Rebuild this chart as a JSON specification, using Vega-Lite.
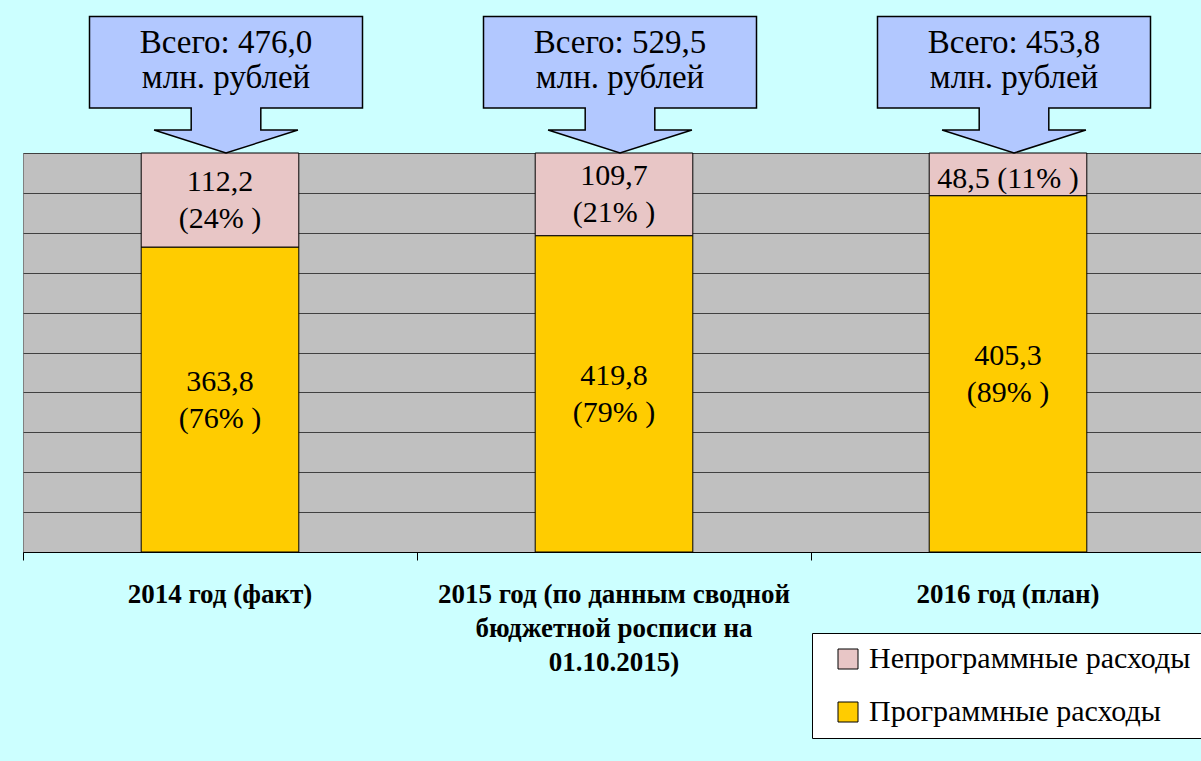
{
  "$schema": "https://vega.github.io/schema/vega-lite/v6.json",
  "width": 1182,
  "height": 399,
  "autosize": {"type": "none"},
  "padding": {"left": 23, "top": 153, "right": 0, "bottom": 209},
  "background": "#CCFFFF",
  "config": {
    "view": {"fill": "#C0C0C0", "stroke": "#808080", "strokeWidth": 1},
    "font": "Liberation Serif",
    "axisY": {"tickCount": 20}
  },
  "datasets": {
    "spend": [
      {"year": "2014 год (факт)", "type": "Программные расходы", "value": 363.8, "label2": "363,8\n(76% )", "label1": ""},
      {"year": "2014 год (факт)", "type": "Непрограммные расходы", "value": 112.2, "label2": "112,2\n(24% )", "label1": ""},
      {"year": "2015 год (по данным сводной\nбюджетной росписи на\n01.10.2015)", "type": "Программные расходы", "value": 419.8, "label2": "419,8\n(79% )", "label1": ""},
      {"year": "2015 год (по данным сводной\nбюджетной росписи на\n01.10.2015)", "type": "Непрограммные расходы", "value": 109.7, "label2": "109,7\n(21% )", "label1": ""},
      {"year": "2016 год (план)", "type": "Программные расходы", "value": 405.3, "label2": "405,3\n(89% )", "label1": ""},
      {"year": "2016 год (план)", "type": "Непрограммные расходы", "value": 48.5, "label2": "", "label1": "48,5 (11% )"}
    ],
    "totals": [
      {"year": "2014 год (факт)", "callout": "Всего: 476,0\n млн. рублей"},
      {"year": "2015 год (по данным сводной\nбюджетной росписи на\n01.10.2015)", "callout": "Всего: 529,5\n млн. рублей"},
      {"year": "2016 год (план)", "callout": "Всего: 453,8\n млн. рублей"}
    ]
  },
  "layer": [
    {
      "data": {"name": "spend"},
      "mark": {"type": "bar", "stroke": "#000000", "strokeWidth": 1},
      "encoding": {
        "x": {
          "field": "year", "type": "nominal", "sort": null,
          "scale": {"paddingInner": 0.6, "paddingOuter": 0.3},
          "axis": {
            "title": null, "labelAngle": 0, "labelFont": "Liberation Serif", "labelFontWeight": "bold",
            "labelFontSize": 27, "labelColor": "#000000", "labelLineHeight": 34,
            "labelExpr": "split(datum.label, '\\n')", "labelPadding": 21, "labelBaseline": "top",
            "labelLimit": 500, "bandPosition": -0.75, "tickColor": "#000000", "tickSize": 8,
            "domainColor": "#000000", "grid": false
          }
        },
        "y": {
          "field": "value", "type": "quantitative", "stack": "normalize",
          "scale": {"domain": [0, 1], "nice": false},
          "axis": {
            "title": null, "values": [0, 0.1, 0.2, 0.3, 0.4, 0.5, 0.6, 0.7, 0.8, 0.9, 1], "tickCount": 20,
            "grid": true, "gridColor": "#404040", "gridWidth": 1, "domain": false, "ticks": false, "labels": false
          }
        },
        "color": {
          "field": "type", "type": "nominal",
          "scale": {"domain": ["Непрограммные расходы", "Программные расходы"], "range": ["#E8C6C6", "#FFCC00"]},
          "legend": {
            "orient": "none", "legendX": 789, "legendY": 480, "title": null,
            "fillColor": "#FFFFFF", "strokeColor": "#000000", "padding": 11,
            "symbolType": "square", "symbolSize": 400, "symbolStrokeColor": "#000000", "symbolStrokeWidth": 1,
            "labelFont": "Liberation Serif", "labelFontSize": 30, "labelColor": "#000000", "labelLimit": 500,
            "rowPadding": 23, "symbolOffset": 10, "labelOffset": 6
          }
        },
        "order": {"field": "type", "sort": "descending"}
      }
    },
    {
      "data": {"name": "spend"},
      "mark": {"type": "text", "font": "Liberation Serif", "fontSize": 30, "lineBreak": "\n", "lineHeight": 37, "baseline": "middle", "dy": -18, "color": "#000000"},
      "encoding": {
        "x": {"field": "year", "type": "nominal", "sort": null},
        "y": {"field": "value", "type": "quantitative", "stack": "normalize", "bandPosition": 0.5},
        "detail": {"field": "type"},
        "order": {"field": "type", "sort": "descending"},
        "text": {"field": "label2"}
      }
    },
    {
      "data": {"name": "spend"},
      "mark": {"type": "text", "font": "Liberation Serif", "fontSize": 30, "baseline": "middle", "dy": 5, "color": "#000000"},
      "encoding": {
        "x": {"field": "year", "type": "nominal", "sort": null},
        "y": {"field": "value", "type": "quantitative", "stack": "normalize", "bandPosition": 0.5},
        "detail": {"field": "type"},
        "order": {"field": "type", "sort": "descending"},
        "text": {"field": "label1"}
      }
    },
    {
      "data": {"name": "totals"},
      "mark": {
        "type": "point",
        "shape": "M-1,-1L1,-1L1,-0.33L0.255,-0.33L0.255,-0.168L0.527,-0.168L0,0L-0.527,-0.168L-0.255,-0.168L-0.255,-0.33L-1,-0.33Z",
        "size": 74529, "filled": true, "fill": "#B2C8FF", "stroke": "#000000", "strokeWidth": 1.5, "opacity": 1, "xOffset": 6
      },
      "encoding": {
        "x": {"field": "year", "type": "nominal", "sort": null},
        "y": {"datum": 1, "type": "quantitative"}
      }
    },
    {
      "data": {"name": "totals"},
      "mark": {"type": "text", "font": "Liberation Serif", "fontSize": 33, "lineBreak": "\n", "lineHeight": 35, "baseline": "alphabetic", "dy": -100, "dx": 6, "color": "#000000"},
      "encoding": {
        "x": {"field": "year", "type": "nominal", "sort": null},
        "y": {"datum": 1, "type": "quantitative"},
        "text": {"field": "callout"}
      }
    }
  ]
}
